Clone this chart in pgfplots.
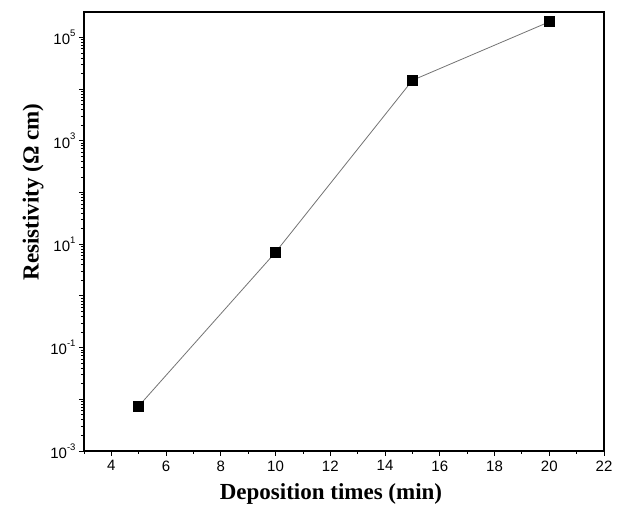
\documentclass[border=0pt]{standalone}
\usepackage{pgfplots}
\pgfplotsset{compat=1.18}
\usepackage{fontspec}
\setmainfont{Liberation Serif}
\newfontfamily\arialf{Liberation Sans}
\newcommand{\sci}[1]{10\raisebox{0.55em}{\fontsize{9.5}{10}\selectfont #1}}
\begin{document}
\begin{tikzpicture}
\begin{axis}[
  scale only axis,
  width=520pt, height=439pt,
  xmin=3, xmax=22,
  ymode=log, ymin=1e-3, ymax=3.1e5,
  xtick={4,6,...,22},
  minor xtick={3,5,...,21},
  ytick={1e-3,1e-2,1e-1,1e0,1e1,1e2,1e3,1e4,1e5},
  yticklabels={\sci{-3},,\sci{-1},,\sci{1},,\sci{3},,\sci{5}},
  xtick pos=bottom, ytick pos=left,
  tick align=outside,
  major tick length=5pt, minor tick length=3pt,
  tick style={black, line width=0.8pt},
  axis line style={line width=1.1pt},
  ticklabel style={font=\arialf\fontsize{15}{17}\selectfont},
  xticklabel style={yshift=-1pt},
  /pgf/number format/assume math mode=true,
  xlabel={\textbf{Deposition times (min)}},
  ylabel={\textbf{Resistivity (Ω cm)}},
  label style={font=\fontsize{23}{25}\selectfont},
  xlabel style={at={(ticklabel cs:0.475)}, yshift=-6pt},
  ylabel style={at={(ticklabel cs:0.59)}},
]
\addplot[black!55, line width=0.8pt, mark=square*, mark size=5pt, mark options={fill=black, draw=black, solid}]
coordinates {(5,7.4e-3) (10,7.0) (15,1.48e4) (20,2.0e5)};
\end{axis}
\pgfresetboundingbox
\path ([shift={(-84pt,-64pt)}]current axis.south west) rectangle ([shift={(19pt,12pt)}]current axis.north east);
\end{tikzpicture}
\end{document}
